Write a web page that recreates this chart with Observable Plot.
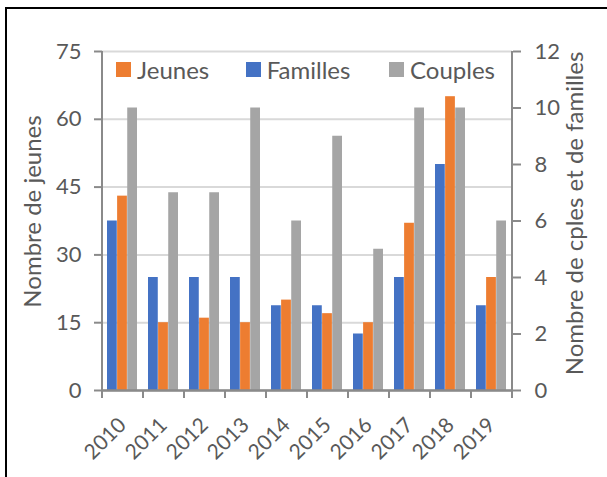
<!DOCTYPE html>
<html><head><meta charset="utf-8">
<script src="https://cdn.jsdelivr.net/npm/d3@7"></script>
<script src="https://cdn.jsdelivr.net/npm/@observablehq/plot@0.6"></script>
<style>
body{margin:0;background:#fff;font-family:Lato,sans-serif;}
#wrap{position:relative;width:607px;height:477px;overflow:hidden;}
#frame{position:absolute;left:5px;top:7px;width:700px;height:600px;border-left:2.5px solid #000;border-top:2.5px solid #000;pointer-events:none;}
#chart{position:absolute;left:0;top:0;}
#legend{position:absolute;left:116px;top:53px;}
.lg{font-size:24px !important;font-family:Lato,sans-serif !important;color:#595959 !important;margin:0 !important;white-space:nowrap;}
.lg-swatch{margin-right:0 !important;}
.lg-swatch:nth-of-type(1){width:129.7px;}
.lg-swatch:nth-of-type(2){width:143.3px;}
.lg-swatch > svg{margin-right:6px !important;}
</style></head><body>
<div id="wrap"><div id="chart"></div><div id="legend"></div><div id="frame"></div></div>
<script>
const years = ["2010","2011","2012","2013","2014","2015","2016","2017","2018","2019"];
const jeunes = [43, 15, 16, 15, 20, 17, 15, 37, 65, 25];
const familles = [6, 4, 4, 4, 3, 3, 2, 4, 8, 3];
const couples = [10, 7, 7, 10, 6, 9, 5, 10, 10, 6];
const leftTicks = [0, 15, 30, 45, 60, 75];
const rightTicks = [0, 2, 4, 6, 8, 10, 12];
const barOrder = ["Familles", "Jeunes", "Couples"];
const legendOrder = ["Jeunes", "Familles", "Couples"];
const colors = {Familles: "#4472C4", Jeunes: "#ED7D31", Couples: "#A5A5A5"};
const leftTitle = "Nombre de jeunes";
const rightTitle = "Nombre de cples et de familles";

const leftMax = 75, rightMax = 12, ratio = leftMax / rightMax;
const seriesValues = {Familles: familles, Jeunes: jeunes, Couples: couples};
const seriesScale = {Familles: ratio, Jeunes: 1, Couples: ratio};
const rows = years.flatMap((y, i) => barOrder.map(s => ({year: y, series: s, value: seriesValues[s][i] * seriesScale[s]})));

const W = 607, H = 477, mL = 102, mR = 95, mT = 51, mB = 87;
const pIn = 0.26, pOut = 0.13;
const step = (W - mL - mR) / years.length;
const third = step * (1 - pIn) / 3;
const axisColor = "#8a8a8a", textColor = "#595959", fs = 22, fsTitle = 24;

const marks = [
  Plot.gridY(leftTicks, {stroke: "#d9d9d9", strokeOpacity: 1, strokeWidth: 2}),
  ...barOrder.map((s, k) => Plot.barY(rows.filter(r => r.series === s), {
    x: "year", y: "value", fill: colors[s], insetLeft: k * third, insetRight: (2 - k) * third
  })),
  Plot.ruleY([0], {stroke: axisColor, strokeWidth: 2.5}),
  Plot.ruleX([years[0]], {dx: -step / 2, stroke: axisColor, strokeWidth: 2, insetBottom: -8}),
  Plot.ruleX([years[years.length - 1]], {dx: step / 2, stroke: axisColor, strokeWidth: 2, insetBottom: -8}),
  Plot.ruleX(years.slice(1), {dx: -step / 2, stroke: axisColor, strokeWidth: 2, insetTop: H - mT - mB, insetBottom: -8}),
  Plot.axisY(leftTicks, {anchor: "left", tickSize: 8, tickPadding: 13, stroke: axisColor, strokeWidth: 2, fill: textColor, fontSize: fs, label: null}),
  Plot.axisY(rightTicks.map(v => v * ratio), {anchor: "right", tickSize: 8, tickPadding: 14, stroke: axisColor, strokeWidth: 2, fill: textColor, fontSize: fs, label: null, tickFormat: d => String(Math.round(d / ratio))}),
  Plot.axisX({tickSize: 0, tickPadding: 31, tickRotate: -45, fill: textColor, fontSize: 21, label: null}),
  Plot.text([leftTitle], {text: d => d, frameAnchor: "left", textAnchor: "middle", rotate: -90, dx: -69.5, dy: -9.5, fontSize: fsTitle, fill: textColor}),
  Plot.text([rightTitle], {text: d => d, frameAnchor: "right", textAnchor: "middle", rotate: -90, dx: 63, dy: -7.5, fontSize: fsTitle, fill: textColor})
];

const chart = Plot.plot({
  width: W, height: H,
  marginLeft: mL, marginRight: mR, marginTop: mT, marginBottom: mB,
  style: {fontFamily: "Lato, sans-serif", fontSize: fs + "px", background: "transparent", color: textColor},
  x: {type: "band", domain: years, paddingInner: pIn, paddingOuter: pOut, axis: null},
  y: {domain: [0, leftMax], axis: null},
  marks
});
document.getElementById("chart").appendChild(chart);

const legend = Plot.legend({
  color: {type: "ordinal", domain: legendOrder, range: legendOrder.map(k => colors[k])},
  legend: "swatches", swatchSize: 15, className: "lg",
  style: {fontSize: "24px", fontFamily: "Lato, sans-serif", color: textColor}
});
document.getElementById("legend").appendChild(legend);
</script>
</body></html>
